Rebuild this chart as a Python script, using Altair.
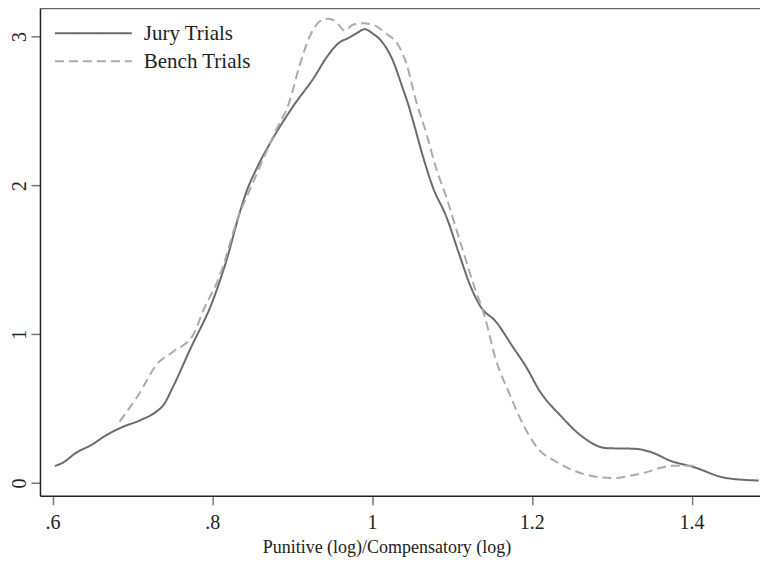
import altair as alt
import pandas as pd

series = ["Jury Trials", "Bench Trials"]

jury_x = [0.603, 0.612, 0.630, 0.649, 0.668, 0.686, 0.711, 0.730, 0.739, 0.751, 0.772,
          0.801, 0.818, 0.834, 0.841, 0.857, 0.872, 0.901, 0.928, 0.943, 0.959, 0.970,
          0.980, 0.991, 1.001, 1.011, 1.026, 1.038, 1.045, 1.051, 1.064, 1.076, 1.093,
          1.109, 1.122, 1.136, 1.155, 1.176, 1.193, 1.209, 1.237, 1.263, 1.293, 1.330,
          1.347, 1.376, 1.401, 1.443, 1.484]
jury_y = [0.115, 0.134, 0.205, 0.257, 0.324, 0.373, 0.425, 0.480, 0.525, 0.648, 0.895,
          1.230, 1.500, 1.810, 1.930, 2.130, 2.280, 2.530, 2.730, 2.860, 2.960, 2.990,
          3.020, 3.050, 3.020, 2.975, 2.840, 2.660, 2.550, 2.440, 2.190, 1.990, 1.790,
          1.540, 1.340, 1.185, 1.085, 0.917, 0.780, 0.626, 0.447, 0.313, 0.235, 0.230,
          0.212, 0.145, 0.110, 0.034, 0.017]

bench_x = [0.684, 0.709, 0.730, 0.751, 0.776, 0.789, 0.809, 0.834, 0.847, 0.878, 0.897,
           0.909, 0.922, 0.934, 0.945, 0.955, 0.966, 0.976, 0.989, 1.001, 1.018, 1.032,
           1.043, 1.055, 1.068, 1.080, 1.093, 1.111, 1.128, 1.141, 1.155, 1.172, 1.184,
           1.209, 1.230, 1.268, 1.301, 1.339, 1.376, 1.407]
bench_y = [0.413, 0.604, 0.794, 0.883, 0.995, 1.163, 1.387, 1.810, 1.970, 2.350, 2.570,
           2.800, 3.000, 3.100, 3.120, 3.100, 3.040, 3.080, 3.090, 3.080, 3.020, 2.950,
           2.820, 2.570, 2.350, 2.120, 1.920, 1.610, 1.320, 1.120, 0.830, 0.600, 0.450,
           0.224, 0.145, 0.056, 0.034, 0.067, 0.116, 0.116]

x_ticks = [0.6, 0.8, 1.0, 1.2, 1.4]
y_ticks = [0, 1, 2, 3]

W, H = 721, 488
FONT = "Liberation Serif"

df = pd.concat([
    pd.DataFrame({"x": jury_x, "y": jury_y, "series": series[0], "order": range(len(jury_x))}),
    pd.DataFrame({"x": bench_x, "y": bench_y, "series": series[1], "order": range(len(bench_x))}),
])

colors = ["#6b6b6b", "#ababab"]
dashes = [[1, 0], [9, 5]]

lines = alt.Chart(df).mark_line(strokeWidth=2, interpolate="monotone").encode(
    x=alt.X("x:Q", title="Punitive (log)/Compensatory (log)",
            scale=alt.Scale(domain=[0.584375, 1.4856], nice=False, zero=False),
            axis=alt.Axis(values=x_ticks, grid=False, tickSize=9, labelPadding=8,
                          labelExpr="datum.value < 1 ? '.' + format(datum.value * 10, '.0f') : format(datum.value, '~g')",
                          titleX=347, titleY=57, titleBaseline="alphabetic", titleFontSize=18)),
    y=alt.Y("y:Q", title=None,
            scale=alt.Scale(domain=[-0.085, 3.19], nice=False, zero=False),
            axis=alt.Axis(values=y_ticks, grid=False, tickSize=9, labelPadding=5,
                          labelAngle=270, labelAlign="center", labelBaseline="alphabetic")),
    color=alt.Color("series:N", scale=alt.Scale(domain=series, range=colors), legend=None),
    strokeDash=alt.StrokeDash("series:N", scale=alt.Scale(domain=series, range=dashes), legend=None),
    order="order:Q",
)

top_line = alt.Chart(pd.DataFrame({"k": [0]})).mark_rule(color="#666666", strokeWidth=2).encode(
    x=alt.value(0), x2=alt.value(W), y=alt.value(0)
)

leg_layers = []
for i, name in enumerate(series):
    ly = 25 + 28 * i
    d = pd.DataFrame({"label": [name]})
    leg_layers.append(
        alt.Chart(d).mark_rule(color=colors[i], strokeWidth=2, strokeDash=dashes[i]).encode(
            x=alt.value(15), x2=alt.value(92), y=alt.value(ly))
    )
    leg_layers.append(
        alt.Chart(d).mark_text(align="left", baseline="middle", font=FONT, fontSize=21,
                               color="#222222", dy=1).encode(
            x=alt.value(104), y=alt.value(ly), text="label:N")
    )

chart = alt.layer(lines, top_line, *leg_layers).properties(
    width=W, height=H,
    autosize=alt.AutoSizeParams(type="none"),
    padding={"left": 32, "top": 0, "right": 0, "bottom": 65},
).configure_view(stroke=None).configure_axis(
    labelFont=FONT, titleFont=FONT, labelFontSize=20, titleFontSize=18,
    labelColor="#222222", titleColor="#222222", titleFontWeight="normal",
    domainColor="#222222", domainWidth=1.5, tickColor="#777777", tickWidth=1.5,
)

chart.save("out.html", embed_options={"renderer": "svg", "actions": False})
